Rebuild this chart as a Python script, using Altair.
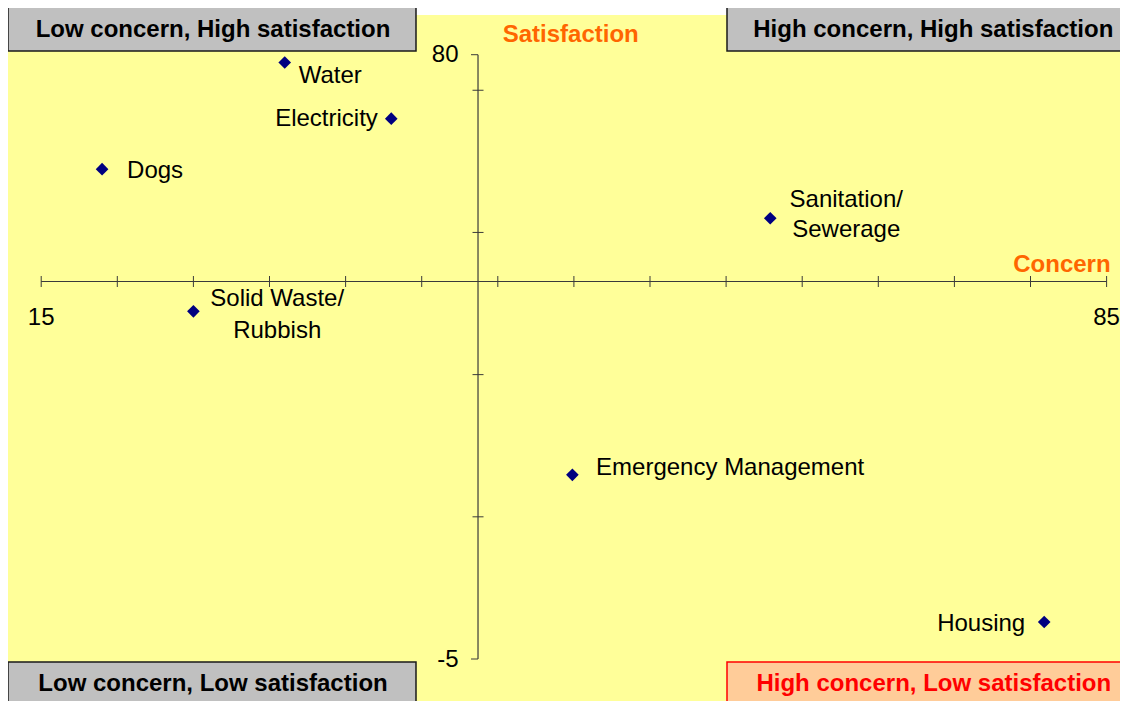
import altair as alt
import pandas as pd

# ---------------- data ----------------
services = ["Water", "Electricity", "Dogs", "Sanitation/\nSewerage",
            "Solid Waste/\nRubbish", "Emergency Management", "Housing"]
concern = [31.0, 38.0, 19.0, 62.9, 25.0, 49.9, 80.9]
satisfaction = [78.9, 71.0, 63.9, 57.0, 43.9, 20.9, 0.2]

x_ticks = [15, 20, 25, 30, 35, 40, 45, 50, 55, 60, 65, 70, 75, 80, 85]
y_ticks_mid = [15, 35, 55, 75]
y_ticks_end = [-5, 80]
x_tick_values = [15, 85]
x_tick_text = ["15", "85"]
y_tick_values = [80, -5]
y_tick_text = ["80", "-5"]

x_cross = 43.7   # where the satisfaction axis crosses
y_cross = 48.1   # where the concern axis crosses

quadrants = ["Low concern, High satisfaction", "High concern, High satisfaction",
             "Low concern, Low satisfaction", "High concern, Low satisfaction"]

# ---------------- styling ----------------
FONT = "Liberation Sans"
AX = "#3a3a3a"
YELLOW = "#FFFF99"
FS = 24

df = pd.DataFrame({"service": services, "concern": concern, "satisfaction": satisfaction})
one = pd.DataFrame({"k": [0]})

xs = alt.Scale(domain=[15, 85], nice=False, zero=False)
ys = alt.Scale(domain=[-5, 80], nice=False, zero=False)

def X(v):
    return alt.X(v, type="quantitative", scale=xs, axis=None)

def Y(v):
    return alt.Y(v, type="quantitative", scale=ys, axis=None)

layers = []

# background
layers.append(alt.Chart(one).mark_rect(color=YELLOW).encode(
    x=alt.value(-33.2), x2=alt.value(1086.8), y=alt.value(-39.7), y2=alt.value(650)))

# axes lines
layers.append(alt.Chart(one).mark_rule(color=AX, strokeWidth=1.2).encode(
    x=alt.datum(15, scale=xs, axis=None), x2=alt.datum(85),
    y=alt.datum(y_cross, scale=ys, axis=None)))
layers.append(alt.Chart(one).mark_rule(color=AX, strokeWidth=1.2).encode(
    x=alt.datum(x_cross, scale=xs, axis=None),
    y=alt.datum(-5, scale=ys, axis=None), y2=alt.datum(80)))

# x ticks
layers.append(alt.Chart(pd.DataFrame({"v": x_ticks})).mark_tick(
    orient="vertical", size=11, thickness=1, color=AX, opacity=1).encode(
    x=X("v"), y=alt.datum(y_cross, scale=ys, axis=None)))
# y ticks
layers.append(alt.Chart(pd.DataFrame({"v": y_ticks_mid})).mark_tick(
    orient="horizontal", size=11, thickness=1, color=AX, opacity=1).encode(
    y=Y("v"), x=alt.datum(x_cross, scale=xs, axis=None)))
layers.append(alt.Chart(pd.DataFrame({"v": y_ticks_end})).mark_tick(
    orient="horizontal", size=7, thickness=1, color=AX, opacity=1, xOffset=-3.5).encode(
    y=Y("v"), x=alt.datum(x_cross, scale=xs, axis=None)))

# tick labels
layers.append(alt.Chart(pd.DataFrame({"v": x_tick_values, "t": x_tick_text})).mark_text(
    font=FONT, fontSize=FS, color="black", align="center", baseline="alphabetic", dy=43.5).encode(
    x=X("v"), y=alt.datum(y_cross, scale=ys, axis=None), text="t:N"))
layers.append(alt.Chart(pd.DataFrame({"v": y_tick_values, "t": y_tick_text})).mark_text(
    font=FONT, fontSize=FS, color="black", align="right", baseline="alphabetic", dx=-19.5, dy=7.5).encode(
    y=Y("v"), x=alt.datum(x_cross, scale=xs, axis=None), text="t:N"))

# axis titles
layers.append(alt.Chart(one).mark_text(
    text="Satisfaction", font=FONT, fontSize=FS, fontWeight="bold", color="#FF6600",
    align="left", baseline="alphabetic", dx=24.7, dy=-12.4).encode(
    x=alt.datum(x_cross, scale=xs, axis=None), y=alt.datum(80, scale=ys, axis=None)))
layers.append(alt.Chart(one).mark_text(
    text="Concern", font=FONT, fontSize=FS, fontWeight="bold", color="#FF6600",
    align="right", baseline="alphabetic", dx=4, dy=-9).encode(
    x=alt.datum(85, scale=xs, axis=None), y=alt.datum(y_cross, scale=ys, axis=None)))

# points
layers.append(alt.Chart(df).mark_point(
    shape="diamond", filled=True, color="#000080", size=160, opacity=1).encode(
    x=X("concern"), y=Y("satisfaction")))

# point labels: (align, dx, dy, lineHeight)
label_style = {
    "Water": ("left", 14, 20.6, 30),
    "Electricity": ("right", -13.4, 7.7, 30),
    "Dogs": ("left", 25, 9.3, 30),
    "Sanitation/\nSewerage": ("center", 76, -11.6, 30.6),
    "Solid Waste/\nRubbish": ("center", 83.8, -5, 31.6),
    "Emergency Management": ("left", 23.7, 0.5, 30),
    "Housing": ("right", -19, 9, 30),
}
for name in services:
    al, dx, dy, lh = label_style[name]
    layers.append(alt.Chart(df).transform_filter(
        alt.datum.service == name).mark_text(
        font=FONT, fontSize=FS, color="black", align=al, baseline="alphabetic",
        dx=dx, dy=dy, lineBreak="\n", lineHeight=lh).encode(
        x=X("concern"), y=Y("satisfaction"), text="service:N"))

# quadrant boxes (pixel positions relative to plot origin)
box_geo = [
    (-33.2, 374.8, -47.7, -3.7, 171.8, -18.0),
    (685.8, 1095, -47.7, -3.7, 892.1, -18.0),
    (-33.2, 374.8, 607.3, 650, 171.8, 636.3),
    (685.8, 1095, 607.3, 650, 892.6, 636.3),
]
box_fill = ["#C0C0C0", "#C0C0C0", "#C0C0C0", "#FFCC99"]
box_stroke = ["#1a1a1a", "#1a1a1a", "#1a1a1a", "#FF0000"]
box_text = ["black", "black", "black", "#FF0000"]
for i, q in enumerate(quadrants):
    x1, x2, y1, y2, tx, ty = box_geo[i]
    layers.append(alt.Chart(one).mark_rect(
        fill=box_fill[i], stroke=box_stroke[i], strokeWidth=1.5).encode(
        x=alt.value(x1), x2=alt.value(x2), y=alt.value(y1), y2=alt.value(y2)))
    layers.append(alt.Chart(one).mark_text(
        text=q, font=FONT, fontSize=FS, fontWeight="bold", color=box_text[i],
        align="center", baseline="alphabetic").encode(
        x=alt.value(tx), y=alt.value(ty)))

chart = alt.layer(*layers).properties(
    width=1065.4, height=604.3,
    padding={"left": 33.2, "top": 46.7, "right": 13.4, "bottom": 42},
    autosize=alt.AutoSizeParams(type="none"),
    background="white",
).configure_view(stroke=None)

chart.save("out.html", embed_options={"renderer": "svg", "actions": False})
